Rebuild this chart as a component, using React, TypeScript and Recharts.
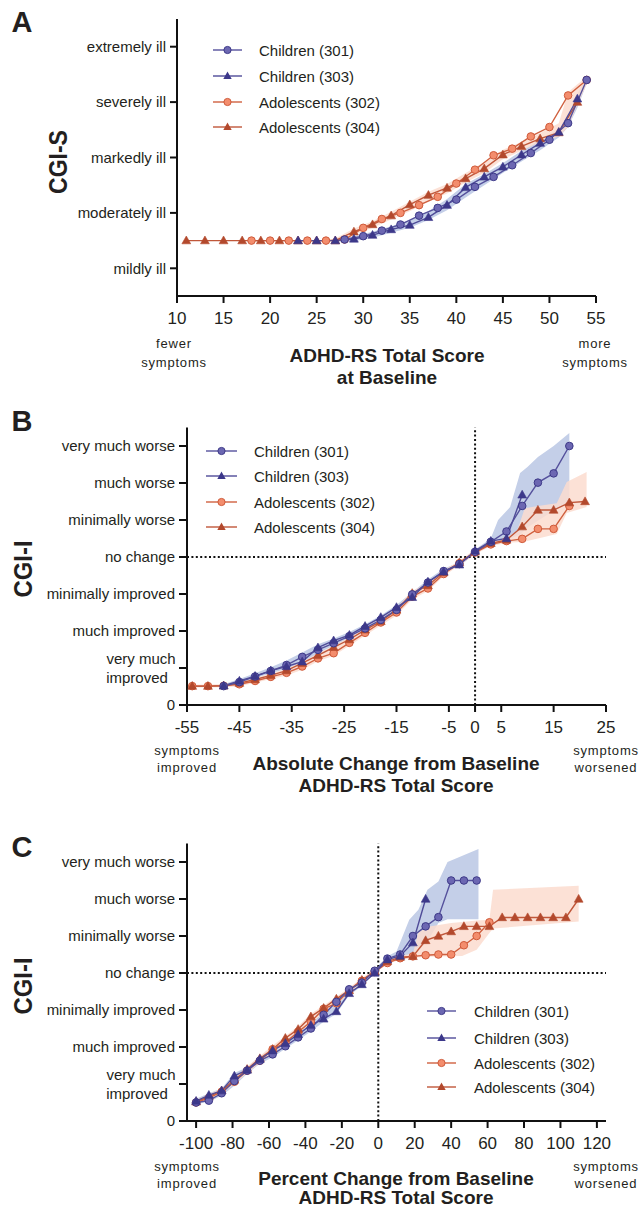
import React from "react";
import { Area, ComposedChart, Line, ReferenceLine, XAxis, YAxis } from "recharts";

const FONT = "'Liberation Sans', Arial, sans-serif";

const C301 = { line: "#55519c", fill: "#6c67b2", stroke: "#3d3988" };
const C303 = { line: "#4f4b98", fill: "#3c388a", stroke: "#3c388a" };
const A302 = { line: "#d0603f", fill: "#f38d6d", stroke: "#cf5a3a" };
const A304 = { line: "#c0573a", fill: "#b3492d", stroke: "#b3492d" };
const BLUE_BAND = "#c4cfe8";
const ORANGE_BAND = "#fbdccf";

// ---------- Panel A: CGI-S vs baseline ADHD-RS ----------
const aLabels: Record<number, string> = {
  3: "mildly ill",
  4: "moderately ill",
  5: "markedly ill",
  6: "severely ill",
  7: "extremely ill",
};
const aXTicks = [10, 15, 20, 25, 30, 35, 40, 45, 50, 55];
const aYTicks = [3, 4, 5, 6, 7];

const a301X = [28, 30, 32, 34, 36, 38, 40, 42, 44, 46, 48, 50, 52, 54];
const a301Y = [3.52, 3.58, 3.68, 3.79, 3.95, 4.09, 4.24, 4.47, 4.65, 4.86, 5.08, 5.32, 5.62, 6.4];
const a303X = [23, 25, 27, 29, 31, 33, 35, 37, 39, 41, 43, 45, 47, 49, 51, 53];
const a303Y = [3.5, 3.5, 3.5, 3.53, 3.6, 3.7, 3.78, 3.92, 4.14, 4.46, 4.65, 4.83, 5.05, 5.26, 5.46, 6.06];
const a302X = [18, 20, 22, 24, 26, 28, 30, 32, 34, 36, 38, 40, 42, 44, 46, 48, 50, 52, 54];
const a302Y = [3.5, 3.5, 3.5, 3.5, 3.5, 3.52, 3.73, 3.89, 4.0, 4.14, 4.29, 4.53, 4.78, 5.04, 5.16, 5.38, 5.55, 6.12, 6.4];
const a304X = [11, 13, 15, 17, 19, 21, 23, 25, 27, 29, 31, 33, 35, 37, 39, 41, 43, 45, 47, 49, 51, 53];
const a304Y = [3.5, 3.5, 3.5, 3.5, 3.5, 3.5, 3.5, 3.5, 3.5, 3.66, 3.79, 3.95, 4.15, 4.32, 4.45, 4.62, 4.8, 5.05, 5.2, 5.34, 5.45, 6.0];

const aBlueX = [27, 29, 31, 33, 35, 37, 39, 41, 43, 45, 47, 49, 51, 52, 53, 54];
const aBlueLo = [3.47, 3.49, 3.55, 3.64, 3.73, 3.87, 4.05, 4.28, 4.5, 4.72, 4.93, 5.13, 5.36, 5.55, 5.9, 6.33];
const aBlueHi = [3.53, 3.58, 3.66, 3.76, 3.87, 4.03, 4.25, 4.52, 4.7, 4.9, 5.12, 5.32, 5.52, 5.72, 6.15, 6.45];
const aOrangeX = [27, 29, 31, 33, 35, 37, 39, 41, 43, 45, 47, 49, 51, 52, 53, 54];
const aOrangeLo = [3.48, 3.6, 3.73, 3.88, 4.03, 4.2, 4.35, 4.55, 4.72, 4.97, 5.12, 5.28, 5.38, 5.55, 5.95, 6.32];
const aOrangeHi = [3.54, 3.72, 3.85, 4.02, 4.2, 4.38, 4.52, 4.72, 4.92, 5.14, 5.28, 5.44, 5.62, 6.18, 6.32, 6.45];

// ---------- Panel B: CGI-I vs absolute change ----------
const iLabels: Record<number, string> = {
  0: "0",
  1: "very much\nimproved",
  2: "much improved",
  3: "minimally improved",
  4: "no change",
  5: "minimally worse",
  6: "much worse",
  7: "very much worse",
};
const iYTicks = [0, 1, 2, 3, 4, 5, 6, 7];
const bXTicks = [-55, -45, -35, -25, -15, -5, 0, 5, 15, 25];

const b301X = [-48, -45, -42, -39, -36, -33, -30, -27, -24, -21, -18, -15, -12, -9, -6, -3, 0, 3, 6, 9, 12, 15, 18];
const b301Y = [0.51, 0.62, 0.77, 0.92, 1.08, 1.3, 1.49, 1.67, 1.86, 2.07, 2.3, 2.57, 2.99, 3.31, 3.62, 3.81, 4.14, 4.41, 4.69, 5.38, 6.01, 6.26, 7.0];
const b303X = [-48, -45, -42, -39, -36, -33, -30, -27, -24, -21, -18, -15, -12, -9, -6, -3, 0, 3, 6, 9];
const b303Y = [0.52, 0.65, 0.78, 0.93, 1.04, 1.17, 1.55, 1.74, 1.89, 2.13, 2.37, 2.64, 2.91, 3.33, 3.6, 3.79, 4.17, 4.43, 4.5, 5.68];
const b302X = [-54, -51, -48, -45, -42, -39, -36, -33, -30, -27, -24, -21, -18, -15, -12, -9, -6, -3, 0, 3, 6, 9, 12, 15, 18];
const b302Y = [0.51, 0.51, 0.52, 0.56, 0.65, 0.76, 0.87, 1.04, 1.26, 1.4, 1.68, 1.95, 2.23, 2.5, 2.93, 3.15, 3.54, 3.83, 4.12, 4.34, 4.43, 4.49, 4.76, 4.76, 5.38];
const b304X = [-54, -51, -48, -45, -42, -39, -36, -33, -30, -27, -24, -21, -18, -15, -12, -9, -6, -3, 0, 3, 6, 9, 12, 15, 18, 21];
const b304Y = [0.51, 0.51, 0.52, 0.59, 0.69, 0.8, 0.93, 1.13, 1.34, 1.56, 1.77, 2.03, 2.26, 2.57, 3.02, 3.23, 3.58, 3.85, 4.14, 4.37, 4.46, 4.82, 5.27, 5.27, 5.47, 5.5];

const bBlueX = [-48, -45, -42, -39, -36, -33, -30, -27, -24, -21, -18, -15, -12, -9, -6, -3, 0, 3, 4.4, 6.7, 8.6, 10, 12, 15, 18];
const bBlueLo = [0.47, 0.57, 0.72, 0.86, 0.98, 1.12, 1.4, 1.6, 1.8, 2.02, 2.27, 2.55, 2.87, 3.27, 3.56, 3.76, 4.08, 4.36, 4.42, 4.5, 4.6, 4.8, 4.98, 5.25, 5.45];
const bBlueHi = [0.56, 0.7, 0.86, 1.02, 1.2, 1.42, 1.64, 1.8, 1.97, 2.18, 2.42, 2.7, 3.05, 3.39, 3.68, 3.86, 4.2, 4.5, 5.0, 5.35, 6.27, 6.43, 6.7, 7.0, 7.35];
const bOrangeX = [-54, -48, -45, -42, -39, -36, -33, -30, -27, -24, -21, -18, -15, -12, -9, -6, -3, 0, 3, 6, 8, 9.5, 12, 15.6, 17.5, 21.3];
const bOrangeLo = [0.47, 0.48, 0.51, 0.6, 0.7, 0.8, 0.95, 1.18, 1.33, 1.6, 1.88, 2.15, 2.42, 2.85, 3.08, 3.48, 3.78, 4.07, 4.3, 4.38, 4.4, 4.42, 4.5, 4.62, 5.19, 5.35];
const bOrangeHi = [0.55, 0.56, 0.63, 0.73, 0.85, 0.98, 1.17, 1.4, 1.6, 1.83, 2.08, 2.32, 2.62, 3.08, 3.3, 3.64, 3.9, 4.2, 4.42, 4.52, 4.7, 5.32, 5.38, 5.45, 6.03, 6.3];

// ---------- Panel C: CGI-I vs percent change ----------
const cXTicks = [-100, -80, -60, -40, -20, 0, 20, 40, 60, 80, 100, 120];

const c301X = [-100, -93, -86, -79, -72, -65, -58, -51, -44, -37, -30, -23, -16, -9, -2, 5, 12, 19, 26, 33, 40, 47, 54];
const c301Y = [0.5, 0.55, 0.75, 1.08, 1.36, 1.63, 1.8, 2.02, 2.26, 2.5, 2.87, 3.22, 3.56, 3.74, 4.06, 4.39, 4.5, 5.0, 5.26, 5.51, 6.5, 6.5, 6.5];
const c303X = [-100, -93, -86, -79, -72, -65, -58, -51, -44, -37, -30, -23, -16, -9, -2, 5, 12, 19, 26];
const c303Y = [0.54, 0.7, 0.82, 1.22, 1.38, 1.67, 1.9, 2.1, 2.34, 2.59, 2.76, 2.96, 3.45, 3.69, 4.0, 4.36, 4.46, 4.82, 6.0];
const c302X = [-100, -93, -86, -79, -72, -65, -58, -51, -44, -37, -30, -23, -16, -9, -2, 5, 12, 19, 26, 33, 40, 47, 54, 61];
const c302Y = [0.5, 0.62, 0.79, 1.06, 1.36, 1.63, 1.94, 2.12, 2.41, 2.68, 3.03, 3.18, 3.52, 3.79, 4.03, 4.27, 4.4, 4.45, 4.48, 4.5, 4.5, 4.75, 5.0, 5.37];
const c304X = [-100, -93, -86, -79, -72, -65, -58, -51, -44, -37, -30, -23, -16, -9, -2, 5, 12, 19, 26, 33, 40, 47, 54, 61, 68, 75, 82, 89, 96, 103, 110];
const c304Y = [0.52, 0.66, 0.82, 1.11, 1.4, 1.69, 1.94, 2.24, 2.48, 2.82, 3.05, 3.3, 3.53, 3.81, 4.04, 4.31, 4.43, 4.45, 4.88, 5.0, 5.12, 5.26, 5.26, 5.26, 5.5, 5.5, 5.5, 5.5, 5.5, 5.5, 6.0];

const cBlueX = [-100, -93, -86, -79, -72, -65, -58, -51, -44, -37, -30, -23, -16, -9, -2, 5, 10, 17, 22, 27, 33, 38, 55];
const cBlueLo = [0.45, 0.52, 0.68, 0.95, 1.28, 1.55, 1.72, 1.95, 2.18, 2.42, 2.68, 2.9, 3.4, 3.65, 3.98, 4.3, 4.4, 4.5, 4.6, 4.85, 5.35, 5.45, 5.45];
const cBlueHi = [0.6, 0.75, 0.88, 1.3, 1.45, 1.75, 1.98, 2.18, 2.42, 2.66, 2.92, 3.28, 3.6, 3.8, 4.1, 4.45, 4.58, 5.44, 5.71, 6.25, 6.47, 7.0, 7.35];
const cOrangeX = [-100, -93, -86, -79, -72, -65, -58, -51, -44, -37, -30, -23, -16, -9, -2, 5, 12, 19, 22, 28, 40, 46, 54, 61, 63, 110];
const cOrangeLo = [0.46, 0.58, 0.74, 1.0, 1.3, 1.57, 1.86, 2.06, 2.35, 2.62, 2.95, 3.12, 3.46, 3.74, 3.99, 4.24, 4.36, 4.4, 4.42, 4.44, 4.45, 4.46, 4.63, 5.08, 5.2, 5.39];
const cOrangeHi = [0.57, 0.72, 0.88, 1.18, 1.47, 1.76, 2.04, 2.3, 2.56, 2.9, 3.12, 3.36, 3.6, 3.87, 4.09, 4.35, 4.47, 4.52, 5.1, 5.26, 5.35, 5.38, 5.42, 5.44, 6.25, 6.36];

const pts = (xs: number[], ys: number[]) => xs.map((x, i) => ({ x, y: ys[i] }));
const band = (xs: number[], lo: number[], hi: number[]) => xs.map((x, i) => ({ x, r: [lo[i], hi[i]] }));

const triangle = (color: string) => (p: any) => {
  if (p.cx == null || p.cy == null) return <g key={p.index} />;
  const { cx, cy } = p;
  return (
    <path
      key={p.index}
      d={`M${cx},${cy - 4.6} L${cx + 4.4},${cy + 3.2} L${cx - 4.4},${cy + 3.2} Z`}
      fill={color}
      stroke={color}
      strokeWidth={0.6}
    />
  );
};

const circleDot = (c: { fill: string; stroke: string }) => ({ r: 3.8, fill: c.fill, stroke: c.stroke, strokeWidth: 1 });

function YTick({ x, y, payload, labels }: any) {
  const label: string = labels[payload.value] ?? "";
  if (label.includes("\n")) {
    const [l1, l2] = label.split("\n");
    return (
      <text x={x - 34} y={y} textAnchor="middle" fontSize={15} fill="#231f20" fontFamily={FONT}>
        <tspan x={x - 34} dy={-4}>{l1}</tspan>
        <tspan x={x - 38} dy={19}>{l2}</tspan>
      </text>
    );
  }
  return (
    <text x={x} y={y} dy="0.355em" textAnchor="end" fontSize={15} fill="#231f20" fontFamily={FONT}>
      {label}
    </text>
  );
}

const axisStyle = { stroke: "#111", strokeWidth: 2 };

function Series({ d301, d303, d302, d304 }: any) {
  return [
    <Line key="302" data={d302} dataKey="y" stroke={A302.line} strokeWidth={1.4} dot={circleDot(A302)} isAnimationActive={false} />,
    <Line key="304" data={d304} dataKey="y" stroke={A304.line} strokeWidth={1.4} dot={triangle(A304.fill)} isAnimationActive={false} />,
    <Line key="301" data={d301} dataKey="y" stroke={C301.line} strokeWidth={1.4} dot={circleDot(C301)} isAnimationActive={false} />,
    <Line key="303" data={d303} dataKey="y" stroke={C303.line} strokeWidth={1.4} dot={triangle(C303.fill)} isAnimationActive={false} />,
  ];
}

function Txt({ x, y, size = 15, bold = false, children, rotate = false, spacing = 0, color = "#231f20" }: any) {
  return (
    <div
      style={{
        position: "absolute",
        left: x,
        top: y,
        transform: `translate(-50%, -50%)${rotate ? " rotate(-90deg) scaleX(0.92)" : ""}`,
        fontSize: size,
        fontWeight: bold ? 700 : 400,
        fontFamily: FONT,
        whiteSpace: "nowrap",
        lineHeight: 1,
        letterSpacing: spacing,
        color,
      }}
    >
      {children}
    </div>
  );
}

const legendItems = [
  { name: "Children (301)", c: C301, shape: "circle" },
  { name: "Children (303)", c: C303, shape: "triangle" },
  { name: "Adolescents (302)", c: A302, shape: "circle" },
  { name: "Adolescents (304)", c: A304, shape: "triangle" },
];

function LegendBox({ x1, x2, textX, rows }: { x1: number; x2: number; textX: number; rows: number[] }) {
  return (
    <>
      {legendItems.map((it, i) => {
        const mid = (x2 - x1) / 2;
        return (
          <div key={it.name} style={{ position: "absolute", left: x1, top: rows[i] - 7 }}>
            <svg width={x2 - x1} height={14} style={{ position: "absolute", left: 0, top: 0 }}>
              <line x1={0} x2={x2 - x1} y1={7} y2={7} stroke={it.c.line} strokeWidth={1.4} />
              {it.shape === "circle" ? (
                <circle cx={mid} cy={7} r={3.6} fill={it.c.fill} stroke={it.c.stroke} strokeWidth={1} />
              ) : (
                <path d={`M${mid},${2.6} L${mid + 4.2},${10} L${mid - 4.2},${10} Z`} fill={it.c.fill} />
              )}
            </svg>
            <div
              style={{
                position: "absolute",
                left: textX - x1,
                top: 7,
                transform: "translateY(-50%)",
                fontSize: 15,
                fontFamily: FONT,
                color: "#231f20",
                whiteSpace: "nowrap",
                lineHeight: 1,
              }}
            >
              {it.name}
            </div>
          </div>
        );
      })}
    </>
  );
}

export default function App() {
  return (
    <div style={{ position: "absolute", left: 0, top: 0, width: 640, height: 1209, background: "#fff", overflow: "hidden" }}>
      {/* Panel A */}
      <div style={{ position: "absolute", left: 0, top: 0 }}>
        <ComposedChart width={640} height={400} margin={{ top: 19, right: 44, left: 57, bottom: 74 }}>
          <XAxis
            type="number"
            dataKey="x"
            domain={[10, 55]}
            ticks={aXTicks}
            allowDataOverflow
            height={30}
            axisLine={axisStyle}
            tickLine={axisStyle}
            tickSize={7}
            tickMargin={9}
            tick={{ fontSize: 17, fill: "#231f20", fontFamily: FONT }}
          />
          <YAxis
            type="number"
            domain={[2.5, 7.5]}
            ticks={aYTicks}
            allowDataOverflow
            width={120}
            axisLine={axisStyle}
            tickLine={axisStyle}
            tickSize={7}
            tickMargin={4}
            tick={<YTick labels={aLabels} />}
          />
          <Area data={band(aBlueX, aBlueLo, aBlueHi)} dataKey="r" stroke="none" fill={BLUE_BAND} fillOpacity={1} isAnimationActive={false} />
          <Area data={band(aOrangeX, aOrangeLo, aOrangeHi)} dataKey="r" stroke="none" fill={ORANGE_BAND} fillOpacity={0.85} isAnimationActive={false} />
          {Series({ d301: pts(a301X, a301Y), d303: pts(a303X, a303Y), d302: pts(a302X, a302Y), d304: pts(a304X, a304Y) })}
        </ComposedChart>
      </div>
      <Txt x={22} y={22} size={29} bold>A</Txt>
      <Txt x={58} y={162} size={25} bold rotate>CGI-S</Txt>
      <Txt x={387} y={355} size={19} bold>ADHD-RS Total Score</Txt>
      <Txt x={387} y={377} size={19} bold>at Baseline</Txt>
      <Txt x={174} y={343} size={13} spacing={0.8}>fewer</Txt>
      <Txt x={174} y={362} size={13} spacing={0.8}>symptoms</Txt>
      <Txt x={595} y={343} size={13} spacing={0.8}>more</Txt>
      <Txt x={595} y={362} size={13} spacing={0.8}>symptoms</Txt>
      <LegendBox x1={213} x2={242} textX={259} rows={[50, 76, 102, 127]} />

      {/* Panel B */}
      <div style={{ position: "absolute", left: 0, top: 400 }}>
        <ComposedChart width={640} height={400} margin={{ top: 27.5, right: 34, left: 67, bottom: 65 }}>
          <XAxis
            type="number"
            dataKey="x"
            domain={[-55, 25]}
            ticks={bXTicks}
            allowDataOverflow
            height={30}
            axisLine={axisStyle}
            tickLine={axisStyle}
            tickSize={7}
            tickMargin={9}
            tick={{ fontSize: 17, fill: "#231f20", fontFamily: FONT }}
          />
          <YAxis
            type="number"
            domain={[0, 7.5]}
            ticks={iYTicks}
            allowDataOverflow
            width={120}
            axisLine={axisStyle}
            tickLine={axisStyle}
            tickSize={8}
            tickMargin={4}
            tick={<YTick labels={iLabels} />}
          />
          <Area data={band(bBlueX, bBlueLo, bBlueHi)} dataKey="r" stroke="none" fill={BLUE_BAND} fillOpacity={1} isAnimationActive={false} />
          <Area data={band(bOrangeX, bOrangeLo, bOrangeHi)} dataKey="r" stroke="none" fill={ORANGE_BAND} fillOpacity={0.85} isAnimationActive={false} />
          <ReferenceLine y={4} stroke="#111" strokeWidth={2} strokeDasharray="2 2.4" />
          <ReferenceLine x={0} stroke="#111" strokeWidth={2} strokeDasharray="2 2.4" />
          {Series({ d301: pts(b301X, b301Y), d303: pts(b303X, b303Y), d302: pts(b302X, b302Y), d304: pts(b304X, b304Y) })}
        </ComposedChart>
      </div>
      <Txt x={22} y={421} size={29} bold>B</Txt>
      <Txt x={23} y={569} size={26} bold rotate>CGI-I</Txt>
      <Txt x={396} y={763} size={19} bold>Absolute Change from Baseline</Txt>
      <Txt x={396} y={785} size={19} bold>ADHD-RS Total Score</Txt>
      <Txt x={187} y={750} size={13} spacing={0.8}>symptoms</Txt>
      <Txt x={187} y={767} size={13} spacing={0.8}>improved</Txt>
      <Txt x={606} y={750} size={13} spacing={0.8}>symptoms</Txt>
      <Txt x={606} y={767} size={13} spacing={0.8}>worsened</Txt>
      <LegendBox x1={206} x2={237} textX={254} rows={[451, 476, 502, 527]} />

      {/* Panel C */}
      <div style={{ position: "absolute", left: 0, top: 800 }}>
        <ComposedChart width={640} height={409} margin={{ top: 43.5, right: 34, left: 67, bottom: 58 }}>
          <XAxis
            type="number"
            dataKey="x"
            domain={[-105, 125]}
            ticks={cXTicks}
            allowDataOverflow
            height={30}
            axisLine={axisStyle}
            tickLine={axisStyle}
            tickSize={7}
            tickMargin={9}
            tick={{ fontSize: 17, fill: "#231f20", fontFamily: FONT }}
          />
          <YAxis
            type="number"
            domain={[0, 7.5]}
            ticks={iYTicks}
            allowDataOverflow
            width={120}
            axisLine={axisStyle}
            tickLine={axisStyle}
            tickSize={8}
            tickMargin={4}
            tick={<YTick labels={iLabels} />}
          />
          <Area data={band(cBlueX, cBlueLo, cBlueHi)} dataKey="r" stroke="none" fill={BLUE_BAND} fillOpacity={1} isAnimationActive={false} />
          <Area data={band(cOrangeX, cOrangeLo, cOrangeHi)} dataKey="r" stroke="none" fill={ORANGE_BAND} fillOpacity={0.85} isAnimationActive={false} />
          <ReferenceLine y={4} stroke="#111" strokeWidth={2} strokeDasharray="2 2.4" />
          <ReferenceLine x={0} stroke="#111" strokeWidth={2} strokeDasharray="2 2.4" />
          {Series({ d301: pts(c301X, c301Y), d303: pts(c303X, c303Y), d302: pts(c302X, c302Y), d304: pts(c304X, c304Y) })}
        </ComposedChart>
      </div>
      <Txt x={22} y={847} size={29} bold>C</Txt>
      <Txt x={23} y={986} size={26} bold rotate>CGI-I</Txt>
      <Txt x={396} y={1178} size={19} bold>Percent Change from Baseline</Txt>
      <Txt x={396} y={1197} size={19} bold>ADHD-RS Total Score</Txt>
      <Txt x={187} y={1166} size={13} spacing={0.8}>symptoms</Txt>
      <Txt x={187} y={1183} size={13} spacing={0.8}>improved</Txt>
      <Txt x={606} y={1166} size={13} spacing={0.8}>symptoms</Txt>
      <Txt x={606} y={1183} size={13} spacing={0.8}>worsened</Txt>
      <LegendBox x1={427} x2={456} textX={474} rows={[1011, 1038, 1063, 1087]} />
    </div>
  );
}
